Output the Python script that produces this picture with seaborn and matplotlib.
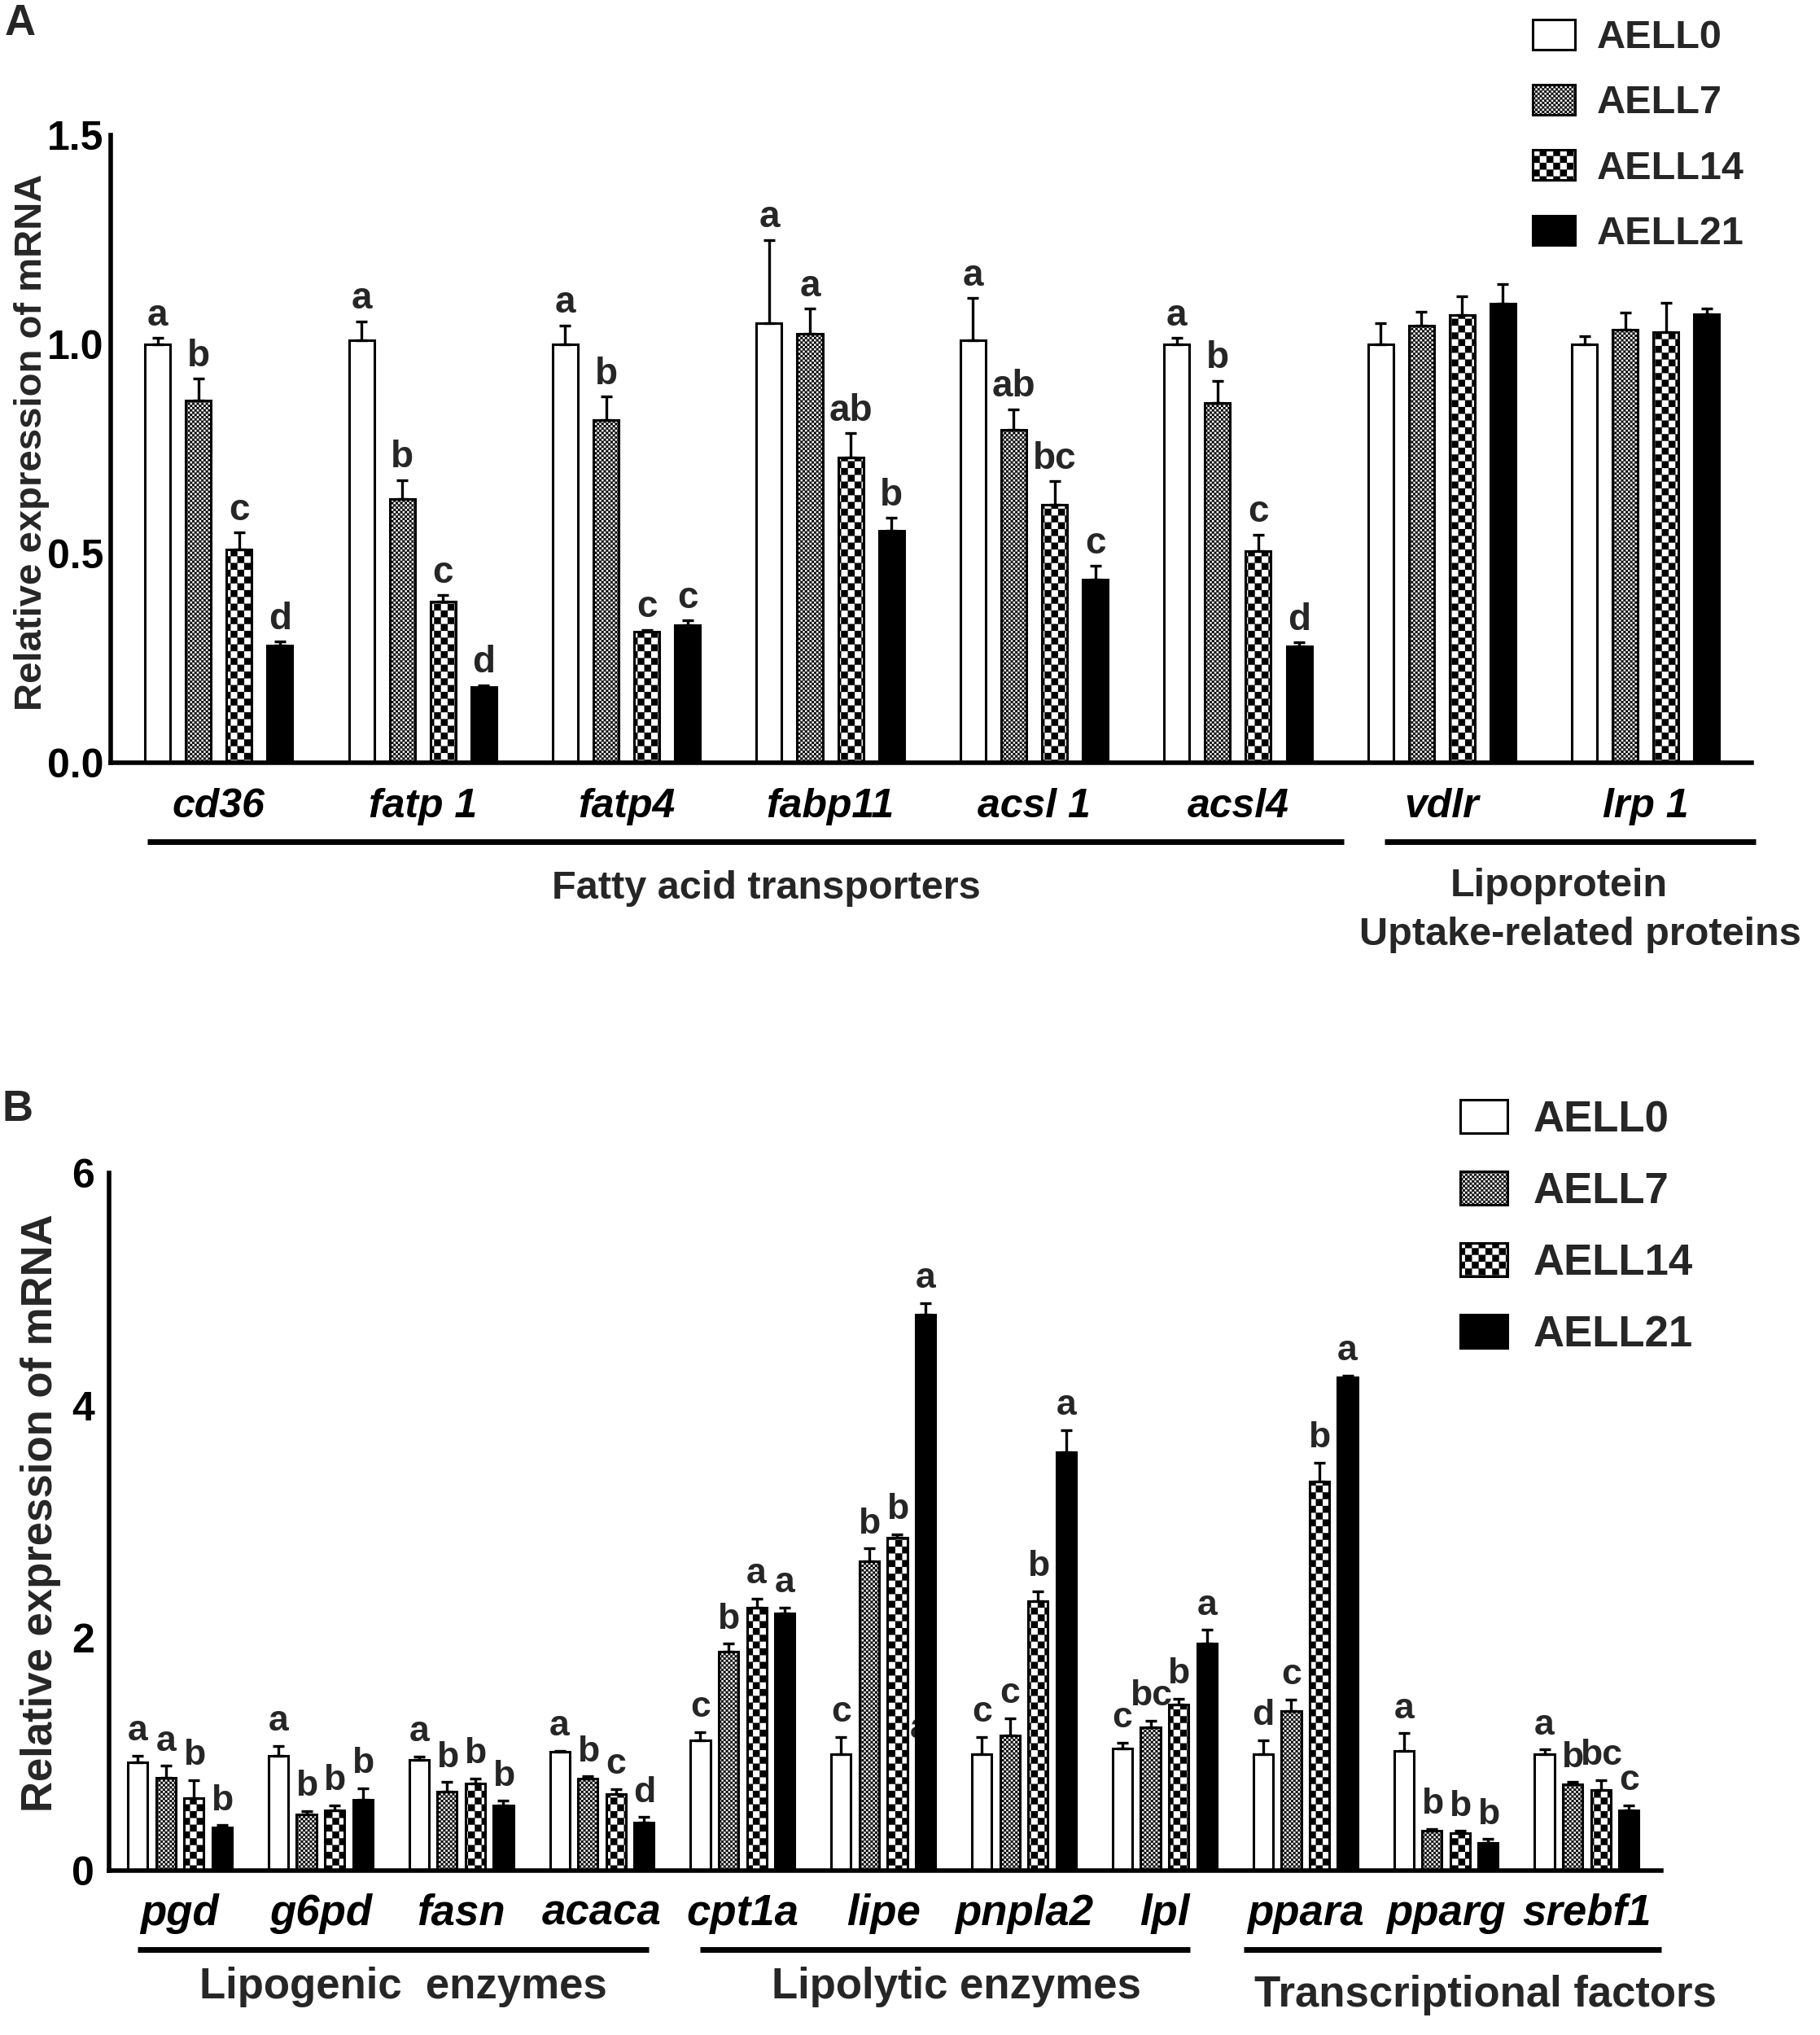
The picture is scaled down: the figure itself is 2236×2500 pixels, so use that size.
import numpy as np
import pandas as pd
import matplotlib
matplotlib.use('Agg')
import matplotlib.pyplot as plt
import matplotlib.hatch as mhatch
from matplotlib.path import Path
import seaborn as sns
from matplotlib.transforms import blended_transform_factory

# ---------------- data ----------------
groups = ['AELL0', 'AELL7', 'AELL14', 'AELL21']

# Panel A
genes_a = ['cd36', 'fatp 1', 'fatp4', 'fabp11', 'acsl 1', 'acsl4', 'vdlr', 'lrp 1']
a_aell0 = [1.00, 1.01, 1.00, 1.05, 1.01, 1.00, 1.00, 1.00]
a_aell7 = [0.865, 0.63, 0.82, 1.025, 0.795, 0.86, 1.045, 1.035]
a_aell14 = [0.51, 0.385, 0.313, 0.73, 0.617, 0.505, 1.07, 1.03]
a_aell21 = [0.28, 0.18, 0.328, 0.555, 0.437, 0.278, 1.098, 1.072]
a_err0 = [0.015, 0.045, 0.045, 0.20, 0.10, 0.015, 0.05, 0.02]
a_err7 = [0.053, 0.045, 0.055, 0.06, 0.05, 0.053, 0.032, 0.04]
a_err14 = [0.04, 0.015, 0.005, 0.057, 0.056, 0.04, 0.045, 0.07]
a_err21 = [0.009, 0.005, 0.012, 0.03, 0.033, 0.009, 0.045, 0.014]
a_let0 = ['a', 'a', 'a', 'a', 'a', 'a', '', '']
a_let7 = ['b', 'b', 'b', 'a', 'ab', 'b', '', '']
a_let14 = ['c', 'c', 'c', 'ab', 'bc', 'c', '', '']
a_let21 = ['d', 'd', 'c', 'b', 'c', 'd', '', '']
a_yticks = [0.0, 0.5, 1.0, 1.5]
a_yticklabels = ['0.0', '0.5', '1.0', '1.5']
a_categories = ['Fatty acid transporters', 'Lipoprotein', 'Uptake-related proteins']

# Panel B
genes_b = ['pgd', 'g6pd', 'fasn', 'acaca', 'cpt1a', 'lipe', 'pnpla2', 'lpl',
           'ppara', 'pparg', 'srebf1']
b_aell0 = [0.93, 0.99, 0.95, 1.02, 1.12, 1.00, 1.00, 1.05, 1.00, 1.03, 1.00]
b_aell7 = [0.80, 0.48, 0.68, 0.79, 1.88, 2.66, 1.16, 1.23, 1.37, 0.34, 0.74]
b_aell14 = [0.62, 0.52, 0.75, 0.66, 2.26, 2.86, 2.32, 1.43, 3.35, 0.32, 0.69]
b_aell21 = [0.37, 0.61, 0.56, 0.41, 2.21, 4.78, 3.60, 1.95, 4.24, 0.24, 0.52]
b_err0 = [0.06, 0.08, 0.03, 0.01, 0.07, 0.15, 0.15, 0.05, 0.12, 0.15, 0.04]
b_err7 = [0.10, 0.03, 0.08, 0.02, 0.07, 0.11, 0.15, 0.06, 0.10, 0.02, 0.02]
b_err14 = [0.16, 0.04, 0.04, 0.04, 0.08, 0.03, 0.08, 0.05, 0.16, 0.02, 0.09]
b_err21 = [0.02, 0.10, 0.04, 0.05, 0.05, 0.10, 0.19, 0.12, 0.02, 0.03, 0.04]
b_let0 = ['a', 'a', 'a', 'a', 'c', 'c', 'c', 'c', 'd', 'a', 'a']
b_let7 = ['a', 'b', 'b', 'b', 'b', 'b', 'c', 'bc', 'c', 'b', 'b']
b_let14 = ['b', 'b', 'b', 'c', 'a', 'b', 'b', 'b', 'b', 'b', 'bc']
b_let21 = ['b', 'b', 'b', 'd', 'a', 'a', 'a', 'a', 'a', 'b', 'c']
b_yticks = [0, 2, 4, 6]
b_yticklabels = ['0', '2', '4', '6']
b_categories = ['Lipogenic  enzymes', 'Lipolytic enzymes', 'Transcriptional factors']
b_stray_label = ('lipe', 1.22, 'a')   # stray letter partly hidden behind a bar


# ---------------- checkerboard hatch (replaces the 'O' hatch) ----------------
def _checker_shape():
    verts, codes = [], []
    for i in range(4):
        for j in range(4):
            if (i + j) % 2 == 0:
                x0 = -0.5 + 0.25 * i
                y0 = -0.5 + 0.25 * j
                verts += [(x0, y0), (x0 + 0.25, y0), (x0 + 0.25, y0 + 0.25),
                          (x0, y0 + 0.25), (x0, y0)]
                codes += [Path.MOVETO, Path.LINETO, Path.LINETO, Path.LINETO,
                          Path.CLOSEPOLY]
    return np.array(verts, float), np.array(codes, dtype=Path.code_type)


class CheckerHatch(mhatch.Shapes):
    filled = True
    size = 1.0

    def __init__(self, hatch, density):
        self.num_rows = int(hatch.count('O') * density) // 2
        self.shape_vertices, self.shape_codes = _checker_shape()
        if self.num_rows == 0:
            self.num_shapes = 0
            self.num_vertices = 0
        else:
            n_even = len(range(0, self.num_rows + 1, 2))
            n_odd = len(range(1, self.num_rows + 1, 2))
            self.num_shapes = (n_even * (self.num_rows + 1)
                               + n_odd * self.num_rows)
            self.num_vertices = self.num_shapes * len(self.shape_vertices)


mhatch._hatch_types = [CheckerHatch if t is mhatch.LargeCircles else t
                       for t in mhatch._hatch_types]

# ---------------- style ----------------
sns.set_theme(style='white')
plt.rcParams['font.family'] = ['Liberation Sans', 'DejaVu Sans']
plt.rcParams['font.weight'] = 'bold'
plt.rcParams['hatch.color'] = 'black'
plt.rcParams['hatch.linewidth'] = 0.15

colors = ['white', 'white', 'white', 'black']
hatches = [None, 'OOO', 'O', None]

W, H = 2236, 2500
fig = plt.figure(figsize=(W / 100, H / 100), dpi=100)


def to_long(genes, series):
    rows = []
    for g, vals in zip(groups, series):
        for gene, v in zip(genes, vals):
            rows.append({'gene': gene, 'group': g, 'value': v})
    return pd.DataFrame(rows)


def draw_panel(ax, genes, series, errs, letters, gap, xlim, ylim, yticks,
               yticklabels, fs_tick, fs_gene, fs_letter, letter_off, fs_ylabel):
    df = to_long(genes, series)
    sns.barplot(data=df, x='gene', y='value', hue='group', order=genes,
                hue_order=groups, palette=colors, saturation=1,
                edgecolor='black', linewidth=2.2, errorbar=None, gap=gap,
                width=0.8, legend=False, ax=ax)
    conts = list(ax.containers)
    handles = []
    for ci, cont in enumerate(conts):
        patches = sorted(cont.patches, key=lambda p: p.get_x())
        for p in patches:
            p.set_edgecolor('black')
            if hatches[ci]:
                p.set_hatch(hatches[ci])
                if hasattr(p, 'set_hatch_linewidth'):
                    p.set_hatch_linewidth(0.15)
            p.set_zorder(2 if ci == 3 else 1)
        handles.append(patches[0])
        xs = np.array([p.get_x() + p.get_width() / 2 for p in patches])
        ys = np.array([p.get_height() for p in patches])
        e = np.array(errs[ci])
        ax.errorbar(xs, ys, yerr=[np.zeros_like(e), e], fmt='none',
                    ecolor='black', elinewidth=2.4, capsize=5, capthick=2.4,
                    zorder=3)
        for x, y, ee, lab in zip(xs, ys, e, letters[ci]):
            if lab:
                ax.annotate(lab, xy=(x, y + ee), xytext=(0, letter_off),
                            textcoords='offset points', ha='center',
                            va='bottom', fontsize=fs_letter,
                            fontweight='bold', zorder=4)
    ax.set_xlim(*xlim)
    ax.set_ylim(*ylim)
    ax.set_yticks(yticks)
    ax.set_yticklabels(yticklabels, fontsize=fs_tick, fontweight='bold')
    ax.set_xticks(range(len(genes)))
    ax.set_xticklabels(genes, fontsize=fs_gene, fontweight='bold',
                       fontstyle='italic')
    ax.set_xlabel('')
    ax.set_ylabel('Relative expression of mRNA', fontsize=fs_ylabel,
                  fontweight='bold')
    ax.yaxis.label.set_verticalalignment('center')
    sns.despine(ax=ax)
    for s in ['left', 'bottom']:
        ax.spines[s].set_linewidth(4)
        ax.spines[s].set_color('black')
    ax.grid(False)
    return handles


# ---------------- Panel A ----------------
axA = fig.add_axes([136 / W, 1 - 937 / H, (2152 - 136) / W, (937 - 166) / H])
hA = draw_panel(axA, genes_a, [a_aell0, a_aell7, a_aell14, a_aell21],
                [a_err0, a_err7, a_err14, a_err21],
                [a_let0, a_let7, a_let14, a_let21], gap=0.38,
                xlim=(-0.53, 7.52), ylim=(0, 1.5), yticks=a_yticks,
                yticklabels=a_yticklabels, fs_tick=36, fs_gene=36,
                fs_letter=33, letter_off=4, fs_ylabel=34)
axA.tick_params(axis='x', length=10, width=3, pad=12, colors='black')
axA.tick_params(axis='y', length=5, width=3, pad=1, colors='black')
axA.yaxis.set_label_coords(-0.048, 0.511)

trA = blended_transform_factory(axA.transData, axA.transAxes)
for x0, x1 in [(-0.35, 5.52), (5.72, 7.54)]:
    axA.plot([x0, x1], [-0.126, -0.126], transform=trA, clip_on=False,
             color='black', lw=5, solid_capstyle='butt')
axA.text(2.685, -0.201, a_categories[0], transform=trA, ha='center',
         va='center', fontsize=35, fontweight='bold')
axA.text(6.575, -0.196, a_categories[1], transform=trA, ha='center',
         va='center', fontsize=35, fontweight='bold')
axA.text(6.68, -0.274, a_categories[2], transform=trA, ha='center',
         va='center', fontsize=35, fontweight='bold')

axA.legend(hA, groups, loc='upper left', bbox_to_anchor=(1883 / W, 1 - 24 / H),
           bbox_transform=fig.transFigure, frameon=False,
           prop={'size': 35, 'weight': 'bold'}, handlelength=1.07,
           handleheight=0.78, handletextpad=0.56, labelspacing=0.72,
           borderpad=0, borderaxespad=0)

# ---------------- Panel B ----------------
axB = fig.add_axes([134 / W, 1 - 2298 / H, (2041 - 134) / W, (2298 - 1441) / H])
hB = draw_panel(axB, genes_b, [b_aell0, b_aell7, b_aell14, b_aell21],
                [b_err0, b_err7, b_err14, b_err21],
                [b_let0, b_let7, b_let14, b_let21], gap=0.3,
                xlim=(-0.503, 10.53), ylim=(0, 6), yticks=b_yticks,
                yticklabels=b_yticklabels, fs_tick=36, fs_gene=38,
                fs_letter=32, letter_off=7, fs_ylabel=38)
axB.tick_params(axis='x', length=10, width=3, pad=10, colors='black')
axB.tick_params(axis='y', length=7, width=3, pad=6, colors='black')
axB.yaxis.set_label_coords(-0.044, 0.513)

# stray letter between lipe bars (mostly hidden behind the AELL21 bar)
gi = genes_b.index(b_stray_label[0])
p21 = sorted(axB.containers[3].patches, key=lambda p: p.get_x())[gi]
axB.text(p21.get_x() + 0.03, b_stray_label[1], b_stray_label[2],
         ha='center', va='center', fontsize=32, fontweight='bold', zorder=1.5)

trB = blended_transform_factory(axB.transData, axB.transAxes)
for x0, x1 in [(-0.30, 3.33), (3.70, 7.18), (7.56, 10.53)]:
    axB.plot([x0, x1], [-0.113, -0.113], transform=trB, clip_on=False,
             color='black', lw=5, solid_capstyle='butt')
axB.text(1.59, -0.167, b_categories[0], transform=trB, ha='center',
         va='center', fontsize=38, fontweight='bold')
axB.text(5.52, -0.167, b_categories[1], transform=trB, ha='center',
         va='center', fontsize=38, fontweight='bold')
axB.text(9.28, -0.1785, b_categories[2], transform=trB, ha='center',
         va='center', fontsize=38, fontweight='bold')

axB.legend(hB, groups, loc='upper left', bbox_to_anchor=(1794 / W, 1 - 1351 / H),
           bbox_transform=fig.transFigure, frameon=False,
           prop={'size': 38, 'weight': 'bold'}, handlelength=1.1,
           handleheight=0.83, handletextpad=0.59, labelspacing=0.72,
           borderpad=0, borderaxespad=0)

# panel letters
fig.text(25 / W, 1 - 29 / H, 'A', ha='center', va='center', fontsize=38,
         fontweight='bold')
fig.text(22 / W, 1 - 1363 / H, 'B', ha='center', va='center', fontsize=38,
         fontweight='bold')

fig.savefig('out.png', dpi=100, facecolor='white')
